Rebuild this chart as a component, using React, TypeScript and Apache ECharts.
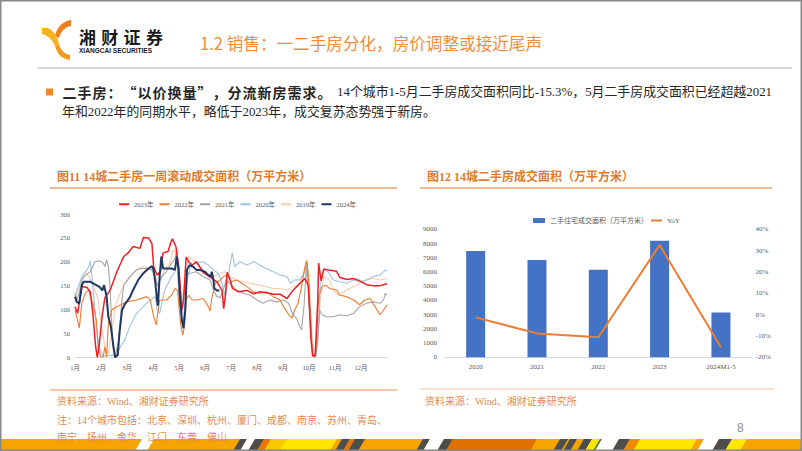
import React, { useEffect, useRef } from 'react';
import * as echarts from 'echarts';

// ---------- data ----------
const monthLabels = ['1月', '2月', '3月', '4月', '5月', '6月', '7月', '8月', '9月', '10月', '11月', '12月'];
const lineNames = ['2023年', '2022年', '2021年', '2020年', '2019年', '2024年'];

// [day of year, 万平方米]
const s2023 = [[0,106],[3,92],[8,148],[14,146],[18,137],[21,90],[24,25],[26,0],[28,20],[32,90],[35,125],[41,140],[49,179],[57,211],[62,218],[68,232],[76,228],[80,251],[86,250],[90,238],[92,190],[96,172],[100,180],[103,218],[109,222],[112,240],[114,248],[118,232],[121,195],[123,150],[125,100],[127,120],[130,210],[133,200],[137,193],[142,200],[150,178],[158,168],[166,158],[172,140],[174,102],[176,130],[178,178],[181,165],[184,145],[191,137],[201,140],[209,133],[216,137],[224,135],[232,132],[240,132],[248,123],[255,140],[263,155],[269,165],[273,150],[276,40],[278,3],[281,3],[284,120],[285,197],[288,160],[291,185],[298,182],[306,180],[310,167],[318,163],[326,165],[333,160],[341,152],[349,150],[357,150],[365,154]];
const s2022 = [[0,99],[3,78],[5,61],[8,113],[12,134],[16,141],[18,127],[21,113],[25,78],[27,22],[30,1],[33,1],[35,22],[37,1],[39,71],[43,99],[49,106],[60,116],[72,120],[84,127],[88,120],[92,85],[95,68],[99,120],[107,120],[113,130],[117,144],[120,140],[122,99],[124,64],[126,47],[128,64],[130,120],[133,130],[137,120],[142,120],[150,123],[156,106],[158,97],[160,123],[164,155],[170,162],[176,172],[179,169],[183,158],[189,162],[195,155],[201,148],[209,137],[216,134],[224,137],[232,127],[240,120],[244,106],[250,89],[254,82],[257,99],[261,113],[265,148],[269,190],[271,202],[273,170],[275,99],[277,29],[279,1],[281,1],[283,50],[285,127],[289,148],[293,151],[298,144],[306,141],[310,130],[318,127],[326,120],[333,110],[339,120],[345,123],[351,106],[357,89],[361,99],[365,110]];
const s2021 = [[0,134],[2,120],[5,134],[8,162],[12,172],[18,179],[23,200],[29,202],[33,197],[35,190],[37,204],[39,190],[41,148],[43,64],[45,15],[47,0],[51,36],[55,120],[57,151],[60,158],[66,172],[72,183],[78,186],[84,186],[90,183],[94,169],[96,150],[99,160],[103,172],[107,179],[113,197],[117,207],[119,225],[122,113],[125,92],[127,125],[131,176],[135,176],[142,179],[150,169],[158,162],[162,141],[166,127],[170,125],[174,145],[177,162],[181,155],[189,141],[197,134],[205,130],[213,120],[220,113],[228,120],[236,116],[244,120],[250,113],[255,89],[259,82],[263,64],[265,57],[268,110],[271,200],[273,150],[276,60],[278,5],[281,0],[284,40],[286,99],[289,89],[294,85],[302,85],[310,89],[318,87],[326,92],[333,106],[341,113],[349,116],[357,113],[361,120],[363,134],[365,130]];
const s2020 = [[0,130],[4,148],[8,169],[14,183],[17,193],[18,202],[20,165],[22,127],[25,64],[28,22],[32,5],[37,2],[43,5],[48,2],[53,22],[58,36],[64,64],[72,92],[80,106],[88,120],[94,127],[96,100],[99,92],[105,141],[113,169],[117,179],[119,215],[121,180],[124,110],[126,60],[128,100],[131,160],[135,190],[140,197],[150,200],[156,193],[162,183],[168,175],[172,155],[176,127],[178,150],[181,190],[184,219],[187,190],[193,200],[201,193],[209,200],[216,193],[224,186],[232,179],[240,172],[248,169],[252,155],[257,162],[263,162],[267,172],[270,190],[272,160],[275,80],[278,5],[282,2],[285,60],[287,155],[291,183],[296,179],[302,162],[310,158],[318,155],[326,162],[333,158],[341,162],[349,169],[357,172],[363,183],[365,179]];
const s2019 = [[0,120],[4,141],[8,162],[14,176],[21,155],[27,120],[31,64],[35,22],[39,8],[43,50],[47,106],[53,134],[58,155],[64,169],[72,183],[80,190],[88,186],[94,169],[96,148],[99,162],[105,183],[111,197],[115,225],[119,218],[122,160],[125,120],[128,150],[133,211],[138,204],[146,190],[154,176],[162,169],[170,176],[176,179],[181,169],[189,162],[197,158],[205,155],[216,151],[224,148],[232,144],[240,144],[248,141],[255,148],[263,151],[269,183],[271,204],[274,162],[277,50],[280,5],[283,8],[287,120],[291,169],[298,162],[302,141],[308,130],[312,134],[318,141],[326,148],[333,155],[341,162],[349,165],[357,162],[365,165]];
const s2024 = [[0,127],[2,116],[5,113],[8,151],[10,158],[18,158],[25,151],[29,147],[32,140],[34,151],[37,127],[39,85],[42,64],[45,22],[47,0],[50,5],[52,50],[55,99],[58,110],[64,125],[68,141],[74,162],[80,176],[86,186],[90,191],[92,183],[94,155],[96,120],[97,108],[99,169],[101,211],[103,186],[107,186],[113,186],[117,183],[119,211],[121,186],[123,120],[125,78],[127,61],[129,99],[131,183],[134,193],[138,190],[142,183],[146,183],[152,179],[156,172],[159,169],[160,179],[162,162],[163,144],[166,140],[169,140]];

const barCategories = ['2020', '2021', '2022', '2023', '2024M1-5'];
const barValues = [7480, 6850, 6150, 8200, 3150];
const yoyValues = [-1.3, -8.8, -10.6, 32.6, -15.3];
const barName = '二手住宅成交面积（万平方米）';
const yoyName = 'YoY';

// ---------- styles ----------
const SERIF = "'Liberation Serif', 'Noto Sans CJK SC', serif";
const CJK = "'Noto Sans CJK SC', sans-serif";
const LABEL = '#595959';

try {
  echarts.graphic.registerShape('xcLogoA', echarts.graphic.extendPath('M71 20 C63 21 57 27 55 36 L59 38 C61 31 65 27 71 26 Z', {}));
  echarts.graphic.registerShape('xcLogoB', echarts.graphic.extendPath('M42 28 L48 28 C54 31 58 37 59 44 L55 46 C52 39 47 35 42 34 Z', {}));
  echarts.graphic.registerShape('xcLogoC', echarts.graphic.extendPath('M55 46 L59 44 C61 51 65 54 70 55 L70 60 C62 59 57 54 55 46 Z', {}));
} catch (e) {}

const stripes: [number, number, string][] = [
  [135, 147, '#FFFFFF'], [233, 240, '#4D4D4D'], [240, 248, '#FFFFFF'], [248, 257, '#4D4D4D'], [257, 264, '#E8760A'],
  [264, 280, '#F9C800'], [280, 330, '#FFE500'], [335, 343, '#4D4D4D'], [343, 348, '#E8760A'], [348, 358, '#4D4D4D'],
  [416, 423, '#4D4D4D'], [423, 437, '#FFFFFF'], [437, 446, '#4D4D4D'], [446, 530, '#E06F00'], [553, 561, '#4D4D4D'],
  [563, 570, '#4D4D4D'], [577, 585, '#4D4D4D'], [585, 593, '#FFE500'], [593, 595, '#2E8B3A'], [595, 612, '#FFFFFF'],
  [612, 623, '#4D4D4D'], [623, 633, '#F08A00'], [633, 690, '#FFE500'], [697, 712, '#FFFFFF'], [712, 725, '#4D4D4D'],
  [725, 740, '#FFE500'],
];

function txt(x: number, y: number, text: string, opts: any = {}) {
  return {
    type: 'text', x, y, z: 20,
    style: {
      text, fill: opts.fill || '#262626', fontSize: opts.fontSize || 12, fontFamily: opts.fontFamily || SERIF,
      fontWeight: opts.fontWeight || 'normal', align: opts.align || 'left', verticalAlign: 'middle',
    },
  };
}

function buildGraphic() {
  const g: any[] = [];
  // bottom stripe
  g.push({ type: 'rect', z: 1, shape: { x: 0, y: 439, width: 802, height: 12 }, style: { fill: '#F5A400' } });
  stripes.forEach(([a, b, c]) => {
    g.push({ type: 'polygon', z: 2, shape: { points: [[a, 451], [b, 451], [b + 7, 439], [a + 7, 439]] }, style: { fill: c } });
  });
  // logo
  g.push({ type: 'xcLogoA', x: 0, y: 0, z: 5, style: { fill: '#EE7F1A' } });
  g.push({ type: 'xcLogoB', x: 0, y: 0, z: 5, style: { fill: '#F6B223' } });
  g.push({ type: 'xcLogoC', x: 0, y: 0, z: 5, style: { fill: '#F39A1E' } });
  ['湘', '财', '证', '券'].forEach((ch, i) => g.push(txt(79 + i * 22.3, 36, ch, { fontSize: 17, fontWeight: 'bold', fontFamily: CJK, fill: '#1a1a1a' })));
  g.push({ ...txt(0, 50, 'XIANGCAI SECURITIES', { fontSize: 8, fontWeight: 'bold', fontFamily: "'Liberation Sans', Arial, sans-serif", fill: '#1a1a1a' }), x: 79, scaleX: 0.82 });
  g.push(txt(200, 43, '1.2 销售：一二手房分化，房价调整或接近尾声', { fontSize: 16.6, fontFamily: CJK, fill: '#EF8D3C' }));
  g.push({ type: 'line', z: 3, shape: { x1: 38, y1: 68, x2: 792, y2: 68 }, style: { stroke: '#D6D6D6', lineWidth: 2 } });
  // bullet
  g.push({ type: 'rect', z: 5, shape: { x: 46, y: 88.5, width: 7, height: 7 }, style: { fill: '#F08A24' } });
  Array.from('二手房：“以价换量”，分流新房需求。').forEach((ch, i) => {
    g.push(txt(69.5 + i * 15, 92, ch, { fontSize: 14, fontWeight: 'bold', fontFamily: CJK, align: 'center' }));
  });
  g.push(txt(337, 92, '14个城市1-5月二手房成交面积同比-15.3%，5月二手房成交面积已经超越2021', { fontSize: 12.9 }));
  g.push(txt(62, 112, '年和2022年的同期水平，略低于2023年，成交复苏态势强于新房。', { fontSize: 12.9 }));
  // chart titles
  g.push(txt(57, 177, '图11 14城二手房一周滚动成交面积（万平方米）', { fontSize: 12, fontWeight: 'bold', fill: '#E07B2D' }));
  g.push({ type: 'line', z: 3, shape: { x1: 50, y1: 188, x2: 397, y2: 188 }, style: { stroke: '#E9A272', lineWidth: 1.5 } });
  g.push(txt(427, 177, '图12 14城二手房成交面积（万平方米）', { fontSize: 12, fontWeight: 'bold', fill: '#E07B2D' }));
  g.push({ type: 'line', z: 3, shape: { x1: 420, y1: 188, x2: 772, y2: 188 }, style: { stroke: '#E9A272', lineWidth: 1.5 } });
  // footers
  g.push({ type: 'line', z: 3, shape: { x1: 50, y1: 390, x2: 397, y2: 390 }, style: { stroke: '#EE8E50', lineWidth: 1 } });
  g.push({ type: 'line', z: 3, shape: { x1: 420, y1: 389, x2: 774, y2: 389 }, style: { stroke: '#F2C4A4', lineWidth: 1 } });
  const fc = '#E38A52';
  g.push(txt(57, 401, '资料来源：Wind、湘财证券研究所', { fontSize: 10, fill: fc }));
  g.push(txt(57, 420, '注：14个城市包括：北京、深圳、杭州、厦门、成都、南京、苏州、青岛、', { fontSize: 10, fill: fc }));
  g.push(txt(57, 437, '南宁、扬州、金华、江门、东莞、佛山', { fontSize: 10, fill: fc }));
  g.push(txt(425, 401, '资料来源：Wind、湘财证券研究所', { fontSize: 10, fill: fc }));
  g.push(txt(737, 428, '8', { fontSize: 12, fill: '#8C8C8C', fontFamily: "'Liberation Sans', sans-serif" }));
  // border
  g.push({ type: 'rect', z: 100, shape: { x: 0.5, y: 0.5, width: 801, height: 450 }, style: { fill: 'none', stroke: '#8A8A8A', lineWidth: 2 } });
  return g;
}

const lineColors: Record<string, string> = {
  '2023年': '#F01E23', '2022年': '#ED7D31', '2021年': '#A5A5A5', '2020年': '#9DC3E6', '2019年': '#F8CBAD', '2024年': '#1F3864',
};
const lineData: Record<string, number[][]> = {
  '2023年': s2023, '2022年': s2022, '2021年': s2021, '2020年': s2020, '2019年': s2019, '2024年': s2024,
};
const drawOrder = ['2019年', '2020年', '2021年', '2022年', '2023年', '2024年'];

export default function App() {
  const ref = useRef<HTMLDivElement>(null);
  useEffect(() => {
    if (!ref.current) return;
    const chart = echarts.init(ref.current, null, { renderer: 'svg' });
    const monthStep = 365 / 12;
    const option: any = {
      animation: false,
      backgroundColor: '#FFFFFF',
      textStyle: { fontFamily: SERIF },
      grid: [
        { left: 75, top: 214, width: 312, height: 143.3 },
        { left: 445, top: 229.3, width: 306.6, height: 128 },
      ],
      legend: [
        {
          data: lineNames, left: 113, top: 196, itemWidth: 10, itemHeight: 6, itemGap: 5,
          itemStyle: { opacity: 0, borderWidth: 0 },
          textStyle: { fontSize: 6.5, color: LABEL, fontFamily: SERIF },
        },
        {
          data: [barName], icon: 'rect', left: 528, top: 212, itemWidth: 12, itemHeight: 5,
          textStyle: { fontSize: 7, color: LABEL, fontFamily: SERIF },
        },
        {
          data: [yoyName], left: 645, top: 212, itemWidth: 11, itemHeight: 5,
          itemStyle: { opacity: 0, borderWidth: 0 },
          textStyle: { fontSize: 7, color: LABEL, fontFamily: SERIF },
        },
      ],
      xAxis: [
        {
          gridIndex: 0, type: 'value', min: 0, max: 365, interval: monthStep,
          axisLine: { lineStyle: { color: '#D9D9D9' } }, axisTick: { show: false }, splitLine: { show: false },
          axisLabel: {
            fontSize: 6.5, color: LABEL, margin: 7,
            formatter: (v: number) => monthLabels[Math.round(v / monthStep)] ?? '',
          },
        },
        {
          gridIndex: 1, type: 'category', data: barCategories,
          axisLine: { lineStyle: { color: '#D9D9D9' } }, axisTick: { show: false },
          axisLabel: { fontSize: 7, color: LABEL, margin: 6 },
        },
      ],
      yAxis: [
        {
          gridIndex: 0, type: 'value', min: 0, max: 300, interval: 50,
          axisLine: { show: false }, axisTick: { show: false }, splitLine: { show: false },
          axisLabel: { fontSize: 6.5, color: LABEL, margin: 5, formatter: (v: number) => String(v) },
        },
        {
          gridIndex: 1, type: 'value', min: 0, max: 9000, interval: 1000,
          axisLine: { show: false }, axisTick: { show: false }, splitLine: { show: false },
          axisLabel: { fontSize: 7, color: LABEL, margin: 8, formatter: (v: number) => String(v) },
        },
        {
          gridIndex: 1, type: 'value', min: -20, max: 40, interval: 10, position: 'right',
          axisLine: { show: false }, axisTick: { show: false }, splitLine: { show: false },
          axisLabel: { fontSize: 7, color: LABEL, margin: 4, formatter: (v: number) => v + '%' },
        },
      ],
      series: [
        ...drawOrder.map((n) => ({
          name: n, type: 'line', xAxisIndex: 0, yAxisIndex: 0, data: lineData[n],
          symbol: 'none',
          lineStyle: { color: lineColors[n], width: n === '2024年' ? 2 : n === '2023年' ? 1.5 : 1.1 },
          itemStyle: { color: lineColors[n] },
        })),
        {
          name: barName, type: 'bar', xAxisIndex: 1, yAxisIndex: 1, data: barValues, barWidth: 19,
          itemStyle: { color: '#4472C4' },
        },
        {
          name: yoyName, type: 'line', xAxisIndex: 1, yAxisIndex: 2, data: yoyValues,
          symbol: 'none',
          lineStyle: { color: '#ED7D31', width: 2 }, itemStyle: { color: '#ED7D31' },
        },
      ],
      graphic: buildGraphic(),
    };
    chart.setOption(option);
    return () => chart.dispose();
  }, []);
  return <div ref={ref} style={{ position: 'fixed', left: 0, top: 0, width: 802, height: 451, background: '#fff' }} />;
}
